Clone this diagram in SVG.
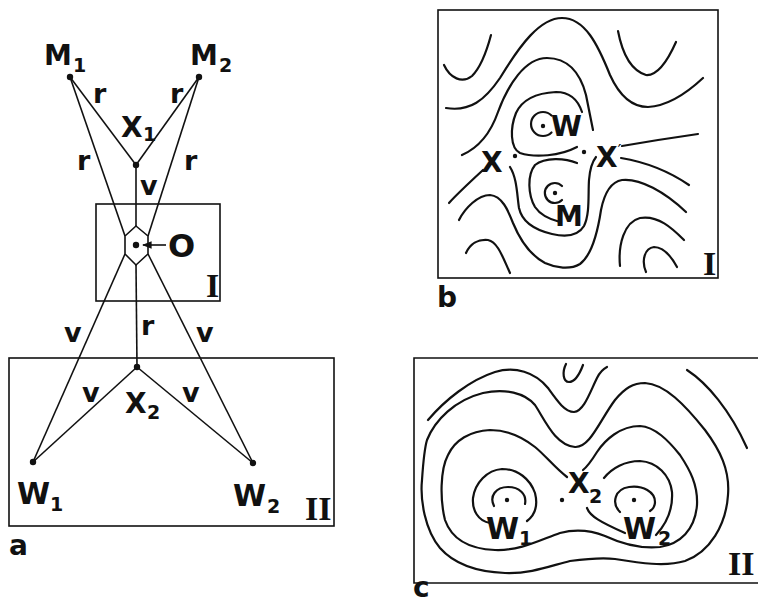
<svg xmlns="http://www.w3.org/2000/svg" width="758" height="608" viewBox="0 0 758 608">
<style>
.ln{stroke:#111;stroke-width:1.6;fill:none}
.ct{stroke:#111;stroke-width:2.2;fill:none;stroke-linecap:round;stroke-linejoin:round}
.bx{stroke:#111;stroke-width:1.6;fill:none}
.dot{fill:#111}
.lb{font-family:"DejaVu Sans","Liberation Sans",sans-serif;font-weight:bold;font-size:28px;fill:#111}
.sb{font-family:"DejaVu Sans","Liberation Sans",sans-serif;font-weight:bold;font-size:19px;fill:#111}
.sm{font-family:"DejaVu Sans","Liberation Sans",sans-serif;font-weight:bold;font-size:27px;fill:#111}
.rm{font-family:"Liberation Serif","Times New Roman",serif;font-weight:bold;font-size:34px;fill:#111}
</style>
<defs>
<marker id="ah" viewBox="0 0 10 10" refX="9" refY="5" markerWidth="6" markerHeight="6" orient="auto">
<path d="M0,1 L10,5 L0,9 Z" fill="#111"/>
</marker>
</defs>
<rect width="758" height="608" fill="#fff"/>

<!-- Panel a -->
<g id="panel-a">
<rect class="bx" x="96" y="204" width="124" height="97"/>
<rect class="bx" x="9" y="358" width="325" height="168"/>
<g id="connectors">
<line class="ln" x1="70" y1="77" x2="136" y2="165"/>
<line class="ln" x1="199" y1="77" x2="136" y2="165"/>
<line class="ln" x1="136" y1="165" x2="136" y2="226"/>
<line class="ln" x1="70" y1="77" x2="125" y2="236"/>
<line class="ln" x1="199" y1="77" x2="148" y2="236"/>
<line class="ln" x1="125" y1="254" x2="33" y2="462"/>
<line class="ln" x1="148" y1="254" x2="253" y2="463"/>
<line class="ln" x1="136" y1="265" x2="137" y2="367"/>
<line class="ln" x1="137" y1="367" x2="33" y2="462"/>
<line class="ln" x1="137" y1="367" x2="253" y2="463"/>
<polygon class="ln" points="136,226 148,236 148,254 136,265 125,254 125,236"/>
<line class="ln" x1="166" y1="245" x2="143" y2="245" marker-end="url(#ah)"/>
</g>
<g id="M1"><circle class="dot" cx="70" cy="77" r="3.2"/><text class="lb" x="44" y="65">M</text><text class="sb" x="73" y="72">1</text></g>
<g id="M2"><circle class="dot" cx="199" cy="77" r="3.2"/><text class="lb" x="190" y="65">M</text><text class="sb" x="219" y="72">2</text></g>
<g id="X1"><circle class="dot" cx="136" cy="165" r="3.2"/><text class="lb" x="121" y="137">X</text><text class="sb" x="143" y="141">1</text></g>
<g id="O"><circle class="dot" cx="136" cy="245" r="3.2"/><text class="lb" x="168" y="257" style="font-size:32px">O</text></g>
<g id="X2"><circle class="dot" cx="137" cy="367" r="3.2"/><text class="lb" x="125" y="413">X</text><text class="sb" x="147" y="419">2</text></g>
<g id="W1"><circle class="dot" cx="33" cy="462" r="3.2"/><text class="lb" x="17" y="504" style="font-size:30px">W</text><text class="sb" x="50" y="511">1</text></g>
<g id="W2"><circle class="dot" cx="253" cy="463" r="3.2"/><text class="lb" x="233" y="506" style="font-size:30px">W</text><text class="sb" x="267" y="513">2</text></g>
<g id="edge-labels">
<text class="sm" x="93" y="103">r</text>
<text class="sm" x="170" y="103">r</text>
<text class="sm" x="77" y="170">r</text>
<text class="sm" x="184" y="170">r</text>
<text class="sm" x="140" y="195">v</text>
<text class="sm" x="64" y="342">v</text>
<text class="sm" x="141" y="335">r</text>
<text class="sm" x="196" y="342">v</text>
<text class="sm" x="82" y="402">v</text>
<text class="sm" x="182" y="402">v</text>
</g>
<text class="rm" x="206" y="297">I</text>
<text class="rm" x="305" y="520">II</text>
<text class="lb" x="9" y="555">a</text>
</g>

<!-- Panel b -->
<g id="panel-b">
<rect class="bx" x="438" y="10" width="280" height="268"/>
<path class="ct" d="M444,65 C450,78 462,84 472,76 C482,66 487,50 491,35"/>
<path class="ct" d="M618,31 C622,52 630,70 646,75 C658,76 668,60 676,42"/>
<path class="ct" d="M446,108 C470,112 485,100 500,78 C520,45 540,18 562,18 C585,18 598,45 610,75 C620,97 632,107 648,107 C668,106 688,92 703,78"/>
<path class="ct" d="M462,155 C478,148 490,135 498,112 C508,85 525,58 547,58 C567,58 580,72 586,95 C589,110 591,120 593,130"/>
<path class="ct" d="M577,147 C560,156 535,158 520,153 C510,148 510,128 516,113 C522,100 536,93 556,92 C570,92 578,100 582,112"/>
<path class="ct" d="M551.5,115.5 A12,12 0 1,0 551.5,132.5"/>
<path class="ct" d="M562,186 A10,10 0 1,0 562,200"/>
<path class="ct" d="M577,163 C565,158 545,157 535,165 C527,175 528,195 535,207 C541,216 552,220 560,222"/>
<path class="ct" d="M510,167 C517,178 517,195 519,208 C522,222 535,230 552,234 C565,237 578,236 584,226 C590,214 588,195 589,180 C590,168 592,162 596,157"/>
<path class="ct" d="M459,220 C465,208 478,195 490,195 C502,196 508,210 513,223 C520,240 530,255 545,263 C556,268 570,270 580,264 C592,255 598,230 601,210 C604,195 610,182 622,180 C640,178 665,192 686,212"/>
<path class="ct" d="M449,203 C456,195 470,182 483,170"/>
<path class="ct" d="M466,253 C470,244 478,239 488,240 C498,242 503,258 510,273"/>
<path class="ct" d="M622,146 C645,142 670,138 698,134"/>
<path class="ct" d="M621,158 C645,162 670,172 689,185"/>
<path class="ct" d="M620,266 C618,245 624,222 640,218 C658,215 672,228 684,240"/>
<path class="ct" d="M646,272 C641,260 645,248 654,247 C663,247 671,256 677,267"/>
<g id="W"><circle class="dot" cx="543" cy="126" r="2.2"/><text class="lb" x="551" y="136">W</text></g>
<g id="X"><circle class="dot" cx="515" cy="156" r="2.2"/><text class="lb" x="481" y="172">X</text></g>
<g id="Xp"><circle class="dot" cx="584" cy="152" r="2.2"/><text class="lb" x="596" y="167">X<tspan style="font-weight:normal;font-size:18px" dy="-10">′</tspan></text></g>
<g id="M"><circle class="dot" cx="555" cy="193" r="2.2"/><text class="lb" x="555" y="226">M</text></g>
<text class="rm" x="703" y="275">I</text>
<text class="lb" x="437" y="307">b</text>
</g>

<!-- Panel c -->
<g id="panel-c">
<path class="bx" d="M758,358 H414 V583 H758"/>
<path class="ct" d="M428,420 C445,400 470,380 495,372 C515,366 535,372 548,388 C558,402 565,412 574,412 C584,411 590,392 597,378 C600,372 603,369 607,367"/>
<path class="ct" d="M566,364 C562,372 563,382 569,382 C575,382 580,373 583,365"/>
<path class="ct" d="M687,370 C707,383 730,410 747,448"/>
<path class="ct" d="M427,440 C435,420 455,400 483,393 C505,388 525,393 535,405 C545,420 555,445 575,447 C590,448 600,420 615,400 C625,388 633,383 645,383 C665,384 685,405 705,430 C720,450 730,470 728,495 C726,525 710,552 685,561 C665,567 640,563 615,559 C600,557 585,559 570,561 C550,566 530,574 505,573 C480,572 455,565 440,548 C425,530 420,500 422,480 C423,465 424,450 427,440 Z"/>
<path class="ct" d="M567,477 C555,468 545,455 535,447 C520,435 505,430 490,430 C470,431 455,440 448,455 C440,470 440,500 445,520 C452,540 470,549 495,550 C520,551 540,540 560,533 C575,529 590,530 605,536 C620,543 640,549 660,547 C680,544 695,530 697,505 C698,485 690,470 680,455 C668,440 655,427 640,426 C620,426 605,440 597,452 C592,460 588,466 583,470"/>
<path class="ct" d="M490,523 C478,521 472,510 473,498 C475,483 487,470 502,469 C518,469 530,479 535,493 C538,505 535,515 527,521"/>
<path class="ct" d="M494,506 C489,496 496,487 508,487 C519,487 527,494 525,504"/>
<path class="ct" d="M604,478 C612,468 625,461 640,461 C657,462 670,475 672,492 C673,508 668,522 656,535"/>
<path class="ct" d="M587,508 C590,516 600,522 625,533"/>
<path class="ct" d="M620,512 C611,503 615,489 629,487 C643,485 655,492 655,502 C655,506 653,509 650,511"/>
<g id="cX2"><circle class="dot" cx="562" cy="500" r="2.2"/><text class="lb" x="568" y="493">X</text><text class="sb" x="589" y="503">2</text></g>
<g id="cW1"><circle class="dot" cx="507" cy="500" r="2.2"/><text class="lb" x="486" y="539" style="font-size:30px">W</text><text class="sb" x="519" y="545">1</text></g>
<g id="cW2"><circle class="dot" cx="634" cy="500" r="2.2"/><text class="lb" x="623" y="539" style="font-size:30px">W</text><text class="sb" x="658" y="545">2</text></g>
<text class="rm" x="728" y="575">II</text>
<text class="lb" x="413" y="597">c</text>
</g>
</svg>
